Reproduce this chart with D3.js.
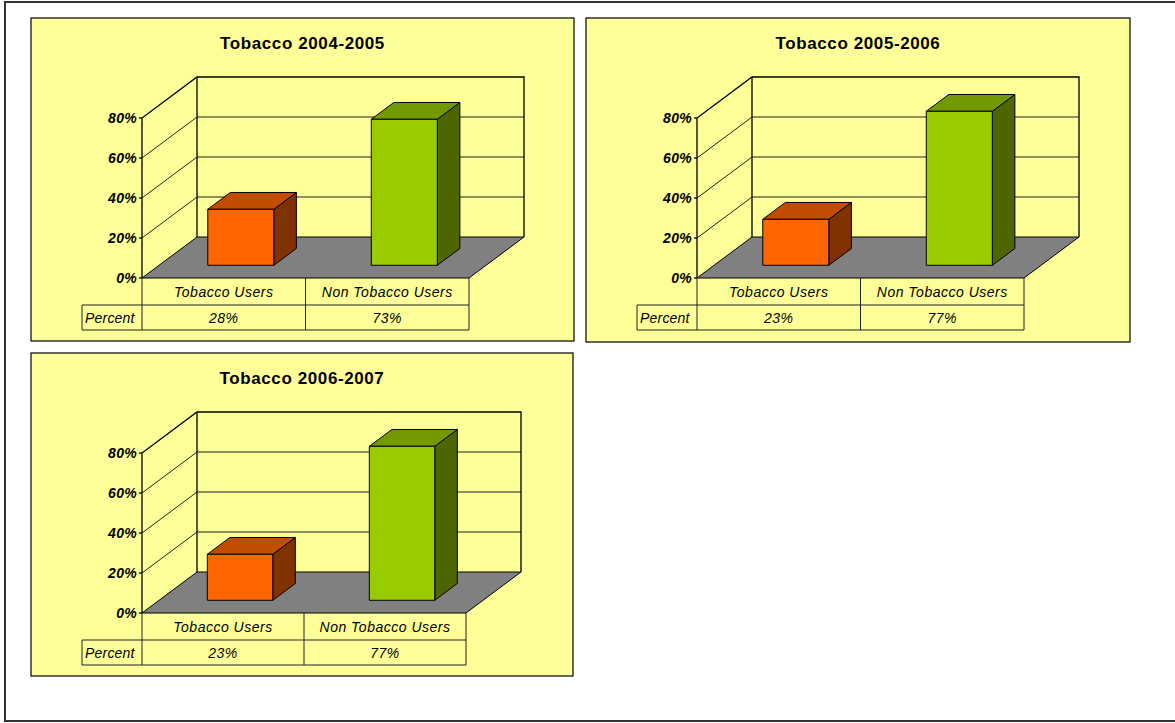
<!DOCTYPE html>
<html>
<head>
    <title>Tobacco Users</title>
    <script src="https://d3js.org/d3.v7.min.js"></script>
    <style>
        body { margin: 0; background: #fff; }
        svg { display: block; font-family: Arial, "Liberation Sans", sans-serif; }
        .panel { fill: #FFFF99; stroke: #000; stroke-width: 1.2; }
        .title { font-size: 17px; font-weight: bold; text-anchor: middle; letter-spacing: 0.6px; }
        .ylabel { font-size: 14px; font-weight: bold; font-style: italic; text-anchor: end; letter-spacing: 0.3px; }
        .cell { font-size: 14px; font-style: italic; text-anchor: middle; letter-spacing: 0.5px; }
        .cell.left { text-anchor: start; letter-spacing: 0.2px; }
        .edge { fill: none; stroke: #000; stroke-width: 1.3; }
        .grid { fill: none; stroke: #222; stroke-width: 1; }
        .floor { fill: #808080; stroke: #000; stroke-width: 1; }
        .bar { stroke: #000; stroke-width: 1; stroke-linejoin: round; }
        .tbl { fill: none; stroke: #222; stroke-width: 1; }
    </style>
</head>
<body>
<div id="chart"></div>
<script>
    // values
    const titles = ["Tobacco 2004-2005", "Tobacco 2005-2006", "Tobacco 2006-2007"];
    const categories = ["Tobacco Users", "Non Tobacco Users"];
    const tobaccoUsers = [28, 23, 23];
    const nonTobaccoUsers = [73, 77, 77];
    const yTicks = [0, 20, 40, 60, 80];
    const yTickLabels = ["0%", "20%", "40%", "60%", "80%"];

    // bar colours: front, top, side
    const barColors = [
        ["#FF6600", "#C04D00", "#803300"],
        ["#99CC00", "#739900", "#4D6600"]
    ];

    // panel boxes
    const panels = [
        { x: 31, y: 18, w: 543, h: 323, plotW: 327 },
        { x: 586, y: 18, w: 544, h: 324, plotW: 327 },
        { x: 31, y: 353, w: 542, h: 323, plotW: 324 }
    ];

    const W = 1175, H = 723;
    const svg = d3.select("#chart").append("svg")
        .attr("width", W)
        .attr("height", H);

    // outer frame (left, top, bottom only)
    svg.append("path")
        .attr("d", `M${W},2H5V721H${W}`)
        .attr("fill", "none")
        .attr("stroke", "#333")
        .attr("stroke-width", 2);

    // depth of the 3d box
    const dx = 55, dy = -41;
    const f0 = 0.31, f1 = 0.72; // bar front / back along the depth
    const axisX = 111, baseY = 260;

    const pts = a => a.map(p => p.join(",")).join(" ");

    panels.forEach((pn, i) => {
        const g = svg.append("g").attr("transform", `translate(${pn.x},${pn.y})`);
        const values = [tobaccoUsers[i], nonTobaccoUsers[i]];

        g.append("rect").attr("class", "panel")
            .attr("width", pn.w).attr("height", pn.h);

        g.append("text").attr("class", "title")
            .attr("x", pn.w / 2).attr("y", 31)
            .text(titles[i]);

        const x = d3.scaleBand()
            .domain(categories)
            .range([axisX, axisX + pn.plotW])
            .paddingInner(0.596)
            .paddingOuter(0.298);

        const y = d3.scaleLinear()
            .domain([0, 80])
            .range([baseY, baseY - 160]);

        const x0 = axisX, x1 = axisX + pn.plotW;
        const top = y(80);

        // back wall grid lines
        yTicks.slice(1, 4).forEach(t => {
            g.append("line").attr("class", "grid")
                .attr("x1", x0 + dx).attr("x2", x1 + dx)
                .attr("y1", y(t) + dy).attr("y2", y(t) + dy);
            // side wall
            g.append("line").attr("class", "grid")
                .attr("x1", x0).attr("x2", x0 + dx)
                .attr("y1", y(t)).attr("y2", y(t) + dy);
        });

        // wall edges
        g.append("path").attr("class", "edge")
            .attr("d", `M${x0},${y(0)}V${top}L${x0 + dx},${top + dy}H${x1 + dx}V${y(0) + dy}`);
        g.append("line").attr("class", "edge")
            .attr("x1", x0 + dx).attr("x2", x0 + dx)
            .attr("y1", top + dy).attr("y2", y(0) + dy);

        // y axis tick marks and labels
        yTicks.forEach((t, k) => {
            g.append("line").attr("class", "edge")
                .attr("x1", x0 - 3).attr("x2", x0)
                .attr("y1", y(t)).attr("y2", y(t));
            g.append("text").attr("class", "ylabel")
                .attr("x", x0 - 5).attr("y", y(t) + 5)
                .text(yTickLabels[k]);
        });

        // floor
        g.append("polygon").attr("class", "floor")
            .attr("points", pts([[x0, y(0)], [x0 + dx, y(0) + dy], [x1 + dx, y(0) + dy], [x1, y(0)]]));

        // bars
        categories.forEach((c, k) => {
            const bw = x.bandwidth();
            const fx = x(c) + f0 * dx, fx2 = fx + bw;
            const fb = y(0) + f0 * dy, ft = y(values[k]) + f0 * dy;
            const ox = (f1 - f0) * dx, oy = (f1 - f0) * dy;
            const col = barColors[k];
            g.append("polygon").attr("class", "bar").attr("fill", col[2])
                .attr("points", pts([[fx2, ft], [fx2 + ox, ft + oy], [fx2 + ox, fb + oy], [fx2, fb]]));
            g.append("polygon").attr("class", "bar").attr("fill", col[1])
                .attr("points", pts([[fx, ft], [fx + ox, ft + oy], [fx2 + ox, ft + oy], [fx2, ft]]));
            g.append("rect").attr("class", "bar").attr("fill", col[0])
                .attr("x", fx).attr("y", ft)
                .attr("width", bw).attr("height", fb - ft);
        });

        // data table under the chart
        const r0 = y(0), r1 = r0 + 27, r2 = r1 + 25;
        const tblLeft = 51;
        g.append("path").attr("class", "tbl")
            .attr("d", `M${x0},${r0}V${r2}M${x1},${r0}V${r2}M${tblLeft},${r1}H${x1}M${tblLeft},${r2}H${x1}M${tblLeft},${r1}V${r2}`);
        categories.forEach((c, k) => {
            const cx = x0 + (k + 0.5) * pn.plotW / 2;
            if (k > 0) {
                g.append("line").attr("class", "tbl")
                    .attr("x1", x0 + k * pn.plotW / 2).attr("x2", x0 + k * pn.plotW / 2)
                    .attr("y1", r0).attr("y2", r2);
            }
            g.append("text").attr("class", "cell")
                .attr("x", cx).attr("y", r0 + 19).text(c);
            g.append("text").attr("class", "cell")
                .attr("x", cx).attr("y", r1 + 18).text(values[k] + "%");
        });
        g.append("text").attr("class", "cell left")
            .attr("x", tblLeft + 3).attr("y", r1 + 18)
            .text("Percent");
    });
</script>
</body>
</html>
